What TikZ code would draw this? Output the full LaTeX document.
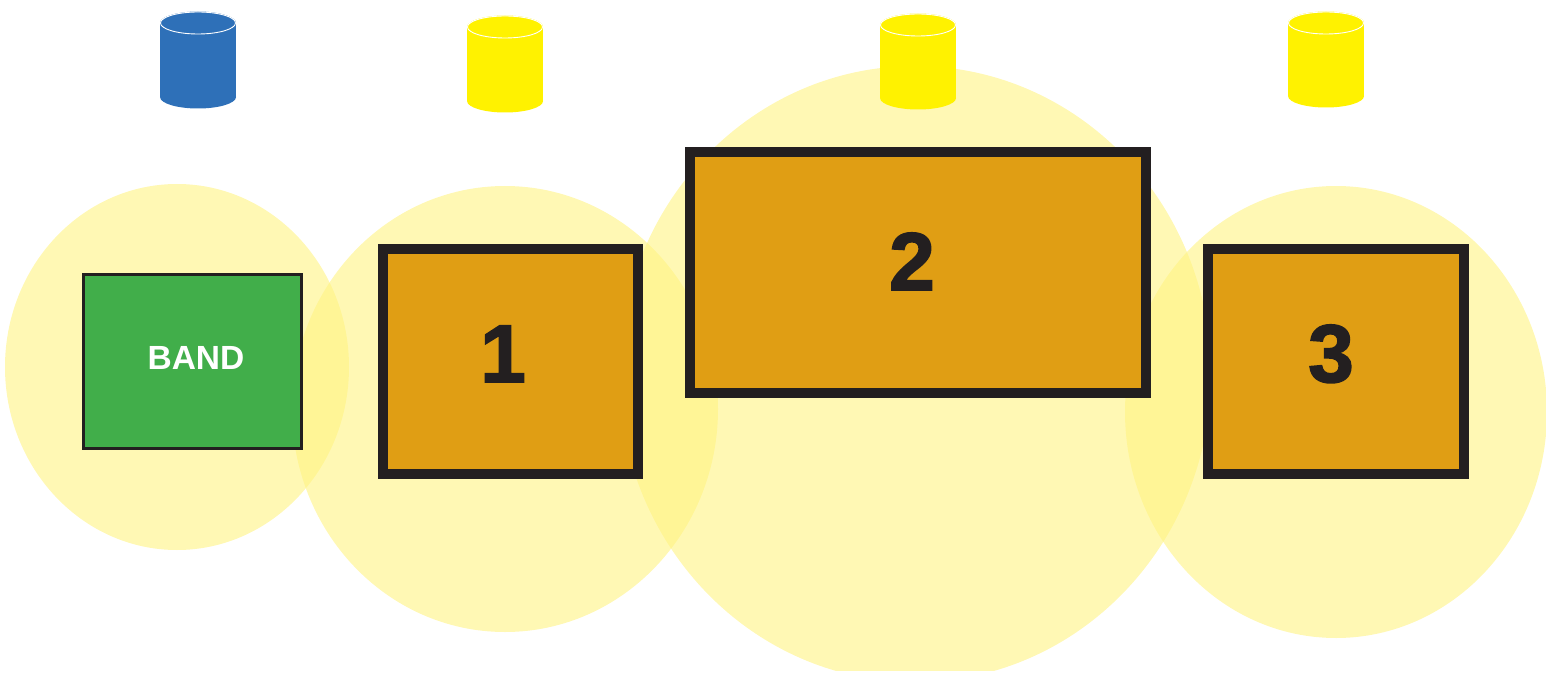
\documentclass[tikz,border=0pt]{standalone}
\usepackage{fontspec}
\setmainfont{Liberation Sans}
\newfontfamily\heavyfont[FakeBold=2]{Liberation Sans Bold}
\definecolor{zoneyellow}{HTML}{FFF382}
\definecolor{drumyellow}{HTML}{FFF200}
\definecolor{drumblue}{HTML}{2E70B8}
\definecolor{stageorange}{HTML}{E09E14}
\definecolor{bandgreen}{HTML}{41AE4A}
\definecolor{darkline}{HTML}{231F20}
\begin{document}
\begin{tikzpicture}[x=1pt,y=-1pt,
  zone/.style={fill=zoneyellow, fill opacity=0.6},
  stagebox/.style={draw=darkline, line width=10pt, fill=stageorange, inner sep=0pt},
  bandbox/.style={draw=darkline, line width=3pt, fill=bandgreen, inner sep=0pt},
  numlabel/.style={anchor=base, inner sep=0pt, text=darkline, font=\fontsize{82}{82}\heavyfont},
  bandlabel/.style={anchor=base, inner sep=0pt, text=white, font=\fontsize{33.5}{33.5}\selectfont\bfseries}]
\useasboundingbox (0,0) rectangle (1546,679);
% coverage zones
\begin{scope}
\clip (0,0) rectangle (1546,670);
\fill[zone] (177,367) ellipse [x radius=172pt, y radius=183pt];
\fill[zone] (505,409) ellipse [x radius=213pt, y radius=223pt];
\fill[zone] (915,374) ellipse [x radius=296pt, y radius=308pt];
\fill[zone] (1336,412) ellipse [x radius=211pt, y radius=226pt];
\end{scope}
% drums / speakers
\foreach \cx/\t/\b/\c in {198/23/97/drumblue, 505/27/101/drumyellow, 918/25/98/drumyellow, 1326/23/96/drumyellow} {
  \fill[\c] (\cx-38,\t) rectangle (\cx+38,\b);
  \fill[\c] (\cx,\b) ellipse [x radius=38pt, y radius=11.5pt];
  \fill[\c] (\cx,\t) ellipse [x radius=38pt, y radius=11.5pt];
  \draw[white, line width=0.9pt] (\cx,\t) ellipse [x radius=37.5pt, y radius=11pt];
}
% band and stages
\node[bandbox, minimum width=218pt, minimum height=174pt] (band) at (192.5,361.5) {};
\node[stagebox, minimum width=255pt, minimum height=225pt] (s1) at (510.5,361.5) {};
\node[stagebox, minimum width=456pt, minimum height=241pt] (s2) at (918,272.5) {};
\node[stagebox, minimum width=256pt, minimum height=225pt] (s3) at (1336,361.5) {};
\node[bandlabel] (bandtext) at (196,369) {BAND};
\node[numlabel] (n1) at (503,382) {1};
\node[numlabel] (n2) at (912,290) {2};
\node[numlabel] (n3) at (1331,382) {3};
\end{tikzpicture}
\end{document}
